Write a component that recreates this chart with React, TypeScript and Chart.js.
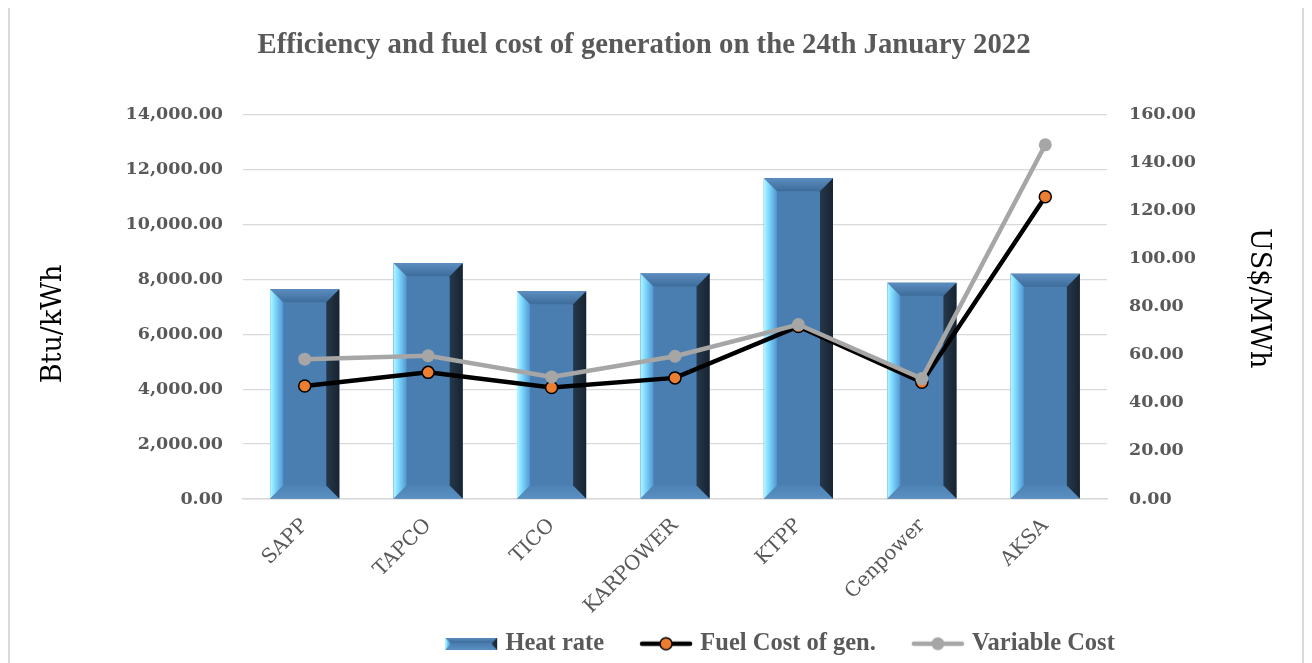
import { useEffect, useRef } from 'react';
import { Chart, registerables } from 'chart.js';

Chart.register(...registerables);

const categories = ['SAPP', 'TAPCO', 'TICO', 'KARPOWER', 'KTPP', 'Cenpower', 'AKSA'];
const heatRate = [7640, 8580, 7560, 8210, 11680, 7870, 8200];
const fuelCost = [47.0, 52.7, 46.4, 50.4, 71.8, 48.6, 125.8];
const variableCost = [58.2, 59.6, 50.8, 59.4, 72.6, 50.1, 147.4];
const seriesNames = ['Heat rate', 'Fuel Cost of gen.', 'Variable Cost'];
const chartTitle = 'Efficiency and fuel cost of generation on the 24th January 2022';
const leftAxisTitle = 'Btu/kWh';
const rightAxisTitle = 'US$/MWh';

const FACE = '#4a7eb0';
const GREY_TEXT = '#595959';
const GRID = '#d9d9d9';

function drawBevel(ctx: CanvasRenderingContext2D, x0: number, y0: number, x1: number, y1: number, b: number) {
  ctx.save();
  ctx.fillStyle = FACE;
  ctx.fillRect(x0, y0, x1 - x0, y1 - y0);
  // top band
  let g = ctx.createLinearGradient(0, y0, 0, y0 + b);
  g.addColorStop(0, '#5b8dbf');
  g.addColorStop(1, '#3d6c9a');
  ctx.fillStyle = g;
  ctx.beginPath();
  ctx.moveTo(x0, y0); ctx.lineTo(x1, y0); ctx.lineTo(x1 - b, y0 + b); ctx.lineTo(x0 + b, y0 + b); ctx.closePath();
  ctx.fill();
  // bottom band
  g = ctx.createLinearGradient(0, y1 - b, 0, y1);
  g.addColorStop(0, '#4d82b5');
  g.addColorStop(1, '#5a8fc2');
  ctx.fillStyle = g;
  ctx.beginPath();
  ctx.moveTo(x0, y1); ctx.lineTo(x1, y1); ctx.lineTo(x1 - b, y1 - b); ctx.lineTo(x0 + b, y1 - b); ctx.closePath();
  ctx.fill();
  // left band
  g = ctx.createLinearGradient(x0, 0, x0 + b, 0);
  g.addColorStop(0, '#b4f6ff');
  g.addColorStop(0.35, '#80dcff');
  g.addColorStop(1, '#5396d2');
  ctx.fillStyle = g;
  ctx.beginPath();
  ctx.moveTo(x0, y0); ctx.lineTo(x0 + b, y0 + b); ctx.lineTo(x0 + b, y1 - b); ctx.lineTo(x0, y1); ctx.closePath();
  ctx.fill();
  // right band
  g = ctx.createLinearGradient(x1 - b, 0, x1, 0);
  g.addColorStop(0, '#25384d');
  g.addColorStop(1, '#18242f');
  ctx.fillStyle = g;
  ctx.beginPath();
  ctx.moveTo(x1, y0); ctx.lineTo(x1, y1); ctx.lineTo(x1 - b, y1 - b); ctx.lineTo(x1 - b, y0 + b); ctx.closePath();
  ctx.fill();
  ctx.restore();
}

function makeBarIcon(): HTMLCanvasElement {
  const c = document.createElement('canvas');
  c.width = 54; c.height = 12;
  const ctx = c.getContext('2d')!;
  drawBevel(ctx, 1, 0, 53, 12, 5);
  return c;
}

function makeLineIcon(line: string, fill: string, border: string, bw: number, r: number): HTMLCanvasElement {
  const c = document.createElement('canvas');
  c.width = 54; c.height = 18;
  const ctx = c.getContext('2d')!;
  ctx.strokeStyle = line;
  ctx.lineWidth = 4.5;
  ctx.lineCap = 'round';
  ctx.beginPath(); ctx.moveTo(3, 9); ctx.lineTo(51, 9); ctx.stroke();
  ctx.beginPath(); ctx.arc(27, 9, r, 0, Math.PI * 2);
  ctx.fillStyle = fill; ctx.fill();
  if (bw > 0) { ctx.lineWidth = bw; ctx.strokeStyle = border; ctx.stroke(); }
  return c;
}

const bevelPlugin = {
  id: 'bevelBars',
  afterDatasetDraw(chart: any, args: any) {
    if (args.index !== 0) return;
    const ctx = chart.ctx;
    const meta = chart.getDatasetMeta(0);
    meta.data.forEach((el: any) => {
      const p = el.getProps(['x', 'y', 'base', 'width'], true);
      const x0 = p.x - p.width / 2;
      const x1 = p.x + p.width / 2;
      const y0 = Math.min(p.y, p.base);
      const y1 = Math.max(p.y, p.base);
      drawBevel(ctx, x0, y0, x1, y1, 13);
    });
  },
};

// Let the legend overlap the bottom of the x-axis box (so the rotated labels are not clipped),
// and shift legend / title horizontally like the original.
const layoutTweakPlugin = {
  id: 'layoutTweak',
  beforeLayout(chart: any) {
    const lg = chart.legend;
    if (lg && !lg.__wrapped) {
      const orig = lg.fit.bind(lg);
      lg.fit = function () {
        orig();
        lg.__h = lg.height;
        lg.height = 0;
      };
      lg.__wrapped = true;
    }
  },
  afterLayout(chart: any) {
    const lg = chart.legend;
    if (lg) {
      const h = lg.__h || 0;
      lg.height = h;
      lg.top = chart.height - h + 3;
      lg.bottom = lg.top + h;
      lg.left += 126;
      lg.right += 126;
    }
    const t = chart.titleBlock;
    if (t) {
      t.left -= 12;
      t.right -= 12;
    }
  },
};

export default function App() {
  const ref = useRef<HTMLCanvasElement | null>(null);

  useEffect(() => {
    if (!ref.current) return;
    const icons = [
      makeBarIcon(),
      makeLineIcon('#000000', '#ed7d31', '#000000', 1.5, 6),
      makeLineIcon('#a6a6a6', '#a6a6a6', '#a6a6a6', 0, 6.5),
    ];
    const chart = new Chart(ref.current, {
      type: 'bar',
      data: {
        labels: categories,
        datasets: [
          {
            type: 'bar',
            label: seriesNames[0],
            data: heatRate,
            backgroundColor: FACE,
            borderWidth: 0,
            yAxisID: 'y',
            order: 3,
            barPercentage: 0.7,
            categoryPercentage: 0.8,
          },
          {
            type: 'line',
            label: seriesNames[1],
            data: fuelCost,
            borderColor: '#000000',
            borderWidth: 4.5,
            pointBackgroundColor: '#ed7d31',
            pointBorderColor: '#000000',
            pointBorderWidth: 1.5,
            pointRadius: 6,
            yAxisID: 'y1',
            order: 2,
            tension: 0,
          },
          {
            type: 'line',
            label: seriesNames[2],
            data: variableCost,
            borderColor: '#a6a6a6',
            borderWidth: 4.5,
            pointBackgroundColor: '#a6a6a6',
            pointBorderColor: '#a6a6a6',
            pointBorderWidth: 0,
            pointRadius: 6.5,
            yAxisID: 'y1',
            order: 1,
            tension: 0,
          },
        ] as any,
      },
      options: {
        responsive: false,
        animation: false,
        layout: { padding: { left: 0, right: 0, top: 0, bottom: 0 } },
        plugins: {
          title: {
            display: true,
            text: chartTitle,
            color: GREY_TEXT,
            font: { family: '"Liberation Serif", serif', size: 28.75, weight: 'bold' },
            padding: { top: 20, bottom: 52 },
          },
          legend: {
            display: true,
            position: 'bottom',
            labels: {
              usePointStyle: true,
              pointStyleWidth: 44,
              padding: 40,
              color: GREY_TEXT,
              font: { family: '"Liberation Serif", serif', size: 24.5, weight: 'bold' },
              generateLabels: () =>
                seriesNames.map((n, i) => ({
                  text: n,
                  pointStyle: icons[i],
                  fillStyle: 'transparent',
                  strokeStyle: 'transparent',
                  lineWidth: 0,
                  hidden: false,
                  datasetIndex: i,
                  fontColor: GREY_TEXT,
                })) as any,
            },
          },
          tooltip: { enabled: false },
        },
        scales: {
          x: {
            grid: { display: false, drawTicks: false },
            border: { display: true, color: GRID, width: 1.5 },
            ticks: {
              color: GREY_TEXT,
              font: { family: '"DejaVu Serif", serif', size: 20 },
              minRotation: 45,
              maxRotation: 45,
              padding: 15,
              autoSkip: false,
            },
            afterFit: (s: any) => { s.height = 164; },
          },
          y: {
            position: 'left',
            min: 0,
            max: 14000,
            grid: { color: GRID, lineWidth: 1.2, drawTicks: false },
            border: { display: false },
            ticks: {
              stepSize: 2000,
              padding: 20,
              color: GREY_TEXT,
              font: { family: '"DejaVu Serif", serif', size: 17.5, weight: 'bold' },
              callback: (v: any) => Number(v).toLocaleString('en-US', { minimumFractionDigits: 2, maximumFractionDigits: 2 }),
            },
            title: {
              display: true,
              text: leftAxisTitle + '    ',
              color: '#000000',
              font: { family: '"DejaVu Serif", serif', size: 27 },
              padding: { top: 28, bottom: 0 },
            },
            afterFit: (s: any) => { s.width = 233; },
          },
          y1: {
            position: 'right',
            min: 0,
            max: 160,
            grid: { display: false, drawTicks: false },
            border: { display: false },
            ticks: {
              stepSize: 20,
              padding: 22,
              color: GREY_TEXT,
              font: { family: '"DejaVu Serif", serif', size: 17.5, weight: 'bold' },
              callback: (v: any) => Number(v).toFixed(2),
            },
            title: {
              display: true,
              text: rightAxisTitle + '  ',
              color: '#000000',
              font: { family: '"DejaVu Serif", serif', size: 27 },
              padding: { top: 28, bottom: 0 },
            },
            afterFit: (s: any) => { s.width = 195; },
          },
        },
      } as any,
      plugins: [bevelPlugin, layoutTweakPlugin],
    });
    return () => chart.destroy();
  }, []);

  return (
    <div
      style={{
        width: 1296,
        height: 655,
        boxSizing: 'border-box',
        borderLeft: '2px solid #d9d9d9',
        borderRight: '2px solid #d9d9d9',
        background: '#ffffff',
      }}
    >
      <canvas ref={ref} width={1292} height={655} style={{ display: 'block' }} />
    </div>
  );
}
